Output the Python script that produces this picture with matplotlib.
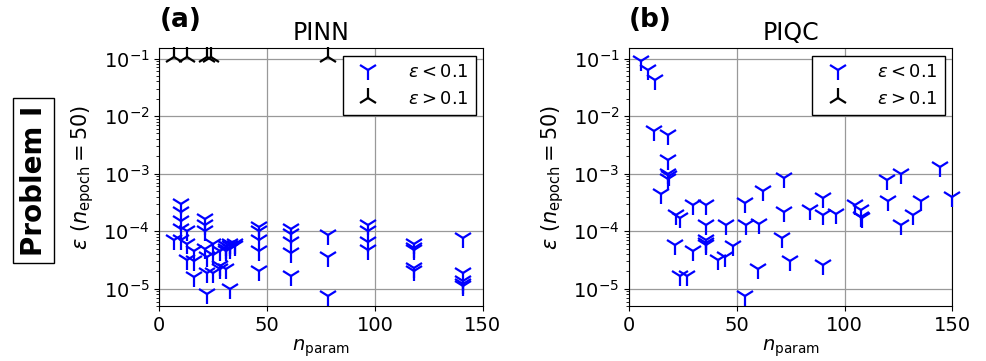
import matplotlib as mpl
mpl.use('Agg')
import matplotlib.pyplot as plt

# PINN, eps < 0.1
pinn_n = [7,
          10, 10, 10, 10, 10,
          13, 13, 13,
          16, 16, 16,
          21, 21, 21, 21,
          22, 22, 22,
          25, 25, 25,
          28, 28, 28,
          31, 31, 31, 31,
          33, 33, 33, 33,
          35, 35,
          46, 46, 46, 46, 46,
          61, 61, 61, 61, 61,
          78, 78, 78,
          97, 97, 97, 97,
          118, 118, 118, 118, 118,
          141, 141, 141, 141, 141]
pinn_eps = [7e-5,
            3.0e-4, 2.2e-4, 1.5e-4, 1.1e-4, 7e-5,
            1.0e-4, 6e-5, 3.2e-5,
            4.5e-5, 3e-5, 1.6e-5,
            1.6e-4, 1.3e-4, 1.0e-4, 5e-5,
            3.5e-5, 1.9e-5, 8e-6,
            6e-5, 3.9e-5, 1.9e-5,
            4.5e-5, 2.5e-5, 2.2e-5,
            5.5e-5, 5e-5, 4.5e-5, 2.2e-5,
            6e-5, 5.5e-5, 5e-5, 1.0e-5,
            6e-5, 5.5e-5,
            1.2e-4, 1.0e-4, 7e-5, 4.5e-5, 2e-5,
            1.1e-4, 9e-5, 6.5e-5, 4.2e-5, 1.7e-5,
            8.7e-5, 3.6e-5, 7.4e-6,
            1.3e-4, 1.0e-4, 6.6e-5, 4.8e-5,
            5.9e-5, 5.1e-5, 4.8e-5, 2.3e-5, 2.0e-5,
            7.6e-5, 1.9e-5, 1.35e-5, 1.2e-5, 1.1e-5]

# PINN, eps > 0.1 (clipped at top)
pinn_bad_n = [7, 13, 22, 24, 78]
pinn_bad_eps = [0.105, 0.105, 0.105, 0.105, 0.105]

# PIQC, eps < 0.1
piqc_n = [5.7, 8.8, 11.9, 11.5, 18.1, 18, 18, 18.5, 18.2, 14.6,
          21.7, 23.8, 29.7, 35.6, 35.9, 44.8, 53.7, 54.1, 60.3, 62.2,
          71.9, 71.9, 71.1, 74.5, 59.8, 53.7, 21.3, 29.8, 23.6, 26.7,
          35.9, 35.9, 35.9, 41.3, 44.4, 48, 83.8, 90, 90, 96.2,
          90, 104.7, 107.8, 107.8, 108.2, 119.8, 126.3, 120, 126.3, 131.7,
          135.3, 144.1, 150]
piqc_eps = [8.9e-2, 6.3e-2, 4.3e-2, 5.4e-3, 4.7e-3, 1.7e-3, 1.0e-3, 9e-4, 8e-4, 4.5e-4,
            1.9e-4, 1.7e-4, 2.8e-4, 2.8e-4, 1.3e-4, 1.3e-4, 3.1e-4, 1.3e-4, 1.35e-4, 4.9e-4,
            8.3e-4, 2.2e-4, 7.6e-5, 3.0e-5, 2.2e-5, 7.4e-6, 5.7e-5, 4.5e-5, 1.7e-5, 1.7e-5,
            7.1e-5, 6.2e-5, 5.8e-5, 3.2e-5, 3.6e-5, 5.5e-5, 2.3e-4, 3.8e-4, 1.9e-4, 2.0e-4,
            2.6e-5, 2.9e-4, 2.3e-4, 1.8e-4, 1.7e-4, 7.8e-4, 1.0e-3, 3.3e-4, 1.3e-4, 1.9e-4,
            3.3e-4, 1.3e-3, 4.0e-4]

fig = plt.figure(figsize=(9.86, 3.61), dpi=100)
ax1 = fig.add_axes([0.1616, 0.152, 0.328, 0.714])
ax2 = fig.add_axes([0.638, 0.152, 0.328, 0.714])

ms = 14
mew = 1.6

panels = [
    (ax1, 'PINN', '(a)', pinn_n, pinn_eps, pinn_bad_n, pinn_bad_eps),
    (ax2, 'PIQC', '(b)', piqc_n, piqc_eps, [], []),
]

for axis, title, tag, xs, ys, bx, by in panels:
    axis.plot(xs, ys, linestyle='none', marker='1', color='blue',
              markersize=ms, markeredgewidth=mew, label=r'$\varepsilon < 0.1$',
              clip_on=False, zorder=3)
    axis.plot(bx, by, linestyle='none', marker='2', color='black',
              markersize=ms, markeredgewidth=mew, label=r'$\varepsilon > 0.1$',
              clip_on=False, zorder=3)
    axis.set_yscale('log')
    axis.set_xlim(0, 150)
    axis.set_ylim(5e-6, 1.5e-1)
    axis.set_xticks([0, 50, 100, 150])
    axis.grid(which='major', color='0.6', linewidth=0.9)
    axis.set_axisbelow(True)
    axis.tick_params(labelsize=14)
    axis.set_xlabel(r'$n_{\rm param}$', fontsize=14, labelpad=2)
    axis.set_ylabel(r'$\varepsilon\ (n_{\rm epoch}=50)$', fontsize=15, labelpad=5)
    axis.set_title(title, fontsize=17, pad=6)
    axis.text(0.0, 1.06, tag, transform=axis.transAxes, fontsize=19,
              fontweight='bold', ha='left', va='bottom')
    leg = axis.legend(loc='upper right', fontsize=13, fancybox=False,
                      edgecolor='black', framealpha=1, borderaxespad=0.4,
                      handletextpad=1.2)
    leg.get_frame().set_linewidth(1.0)

fig.text(0.034, 0.5, 'Problem I', rotation=90, fontsize=20, fontweight='bold',
         ha='center', va='center',
         bbox=dict(boxstyle='square,pad=0.25', facecolor='white', edgecolor='black'))

fig.savefig('out.png', dpi=100)
